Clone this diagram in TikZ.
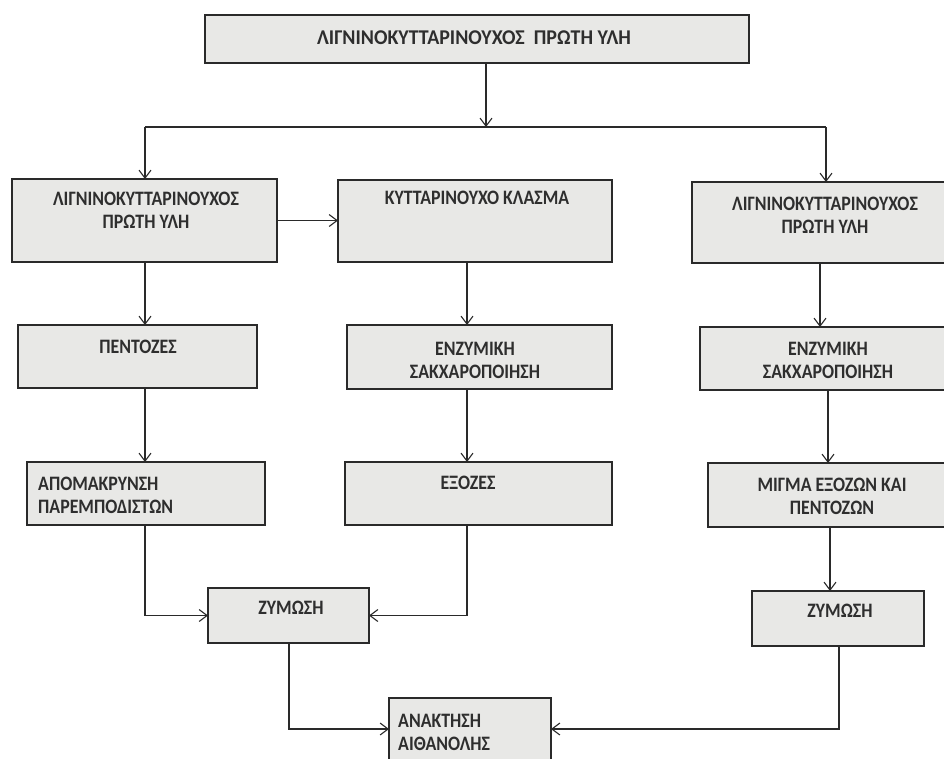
\documentclass[tikz,border=0pt]{standalone}
\usepackage{fontspec}
\setmainfont{Carlito}
\newfontfamily\condfont{Carlito}[FakeStretch=0.87]
\newfontfamily\topfont{Carlito}[FakeStretch=0.95]
\usetikzlibrary{arrows.meta}
\definecolor{boxgray}{HTML}{E8E8E6}
\definecolor{textgray}{HTML}{2E2E2E}
\definecolor{linegray}{HTML}{2A2A2A}
\newcommand\mybox[5]{\node[box, anchor=north west, minimum width={#4pt-#2pt}, minimum height={#5pt-#3pt}] (#1) at (#2,#3) {};}
\tikzset{
  box/.style={draw=linegray, line width=1.4pt, fill=boxgray, inner sep=0pt, outer sep=0pt},
  txt/.style={font=\condfont\bfseries\fontsize{20.5}{23}\selectfont, text=textgray, align=center, inner sep=0pt},
  txtl/.style={txt, align=left, anchor=west},
  conn/.style={draw=linegray, line width=1.1pt},
  arr/.style={conn, -{Straight Barb[length=8pt,width=12pt,line width=1.1pt]}},
}
\begin{document}
\begin{tikzpicture}[x=1pt,y=-1pt]
\useasboundingbox (0,0) rectangle (944,758);
\clip (0,0) rectangle (944,758);
\fill[white] (0,0) rectangle (944,758);
% boxes
\mybox{T}{205}{15}{749}{63}
\mybox{L1}{12}{179}{277}{262}
\mybox{M1}{338}{180}{612}{262}
\mybox{R1}{692}{182}{958}{263}
\mybox{L2}{18}{325}{257}{388}
\mybox{M2}{347}{325}{612}{389}
\mybox{R2}{700}{327}{958}{390}
\mybox{L3}{27}{462}{265}{525}
\mybox{M3}{345}{462}{612}{525}
\mybox{R3}{708}{463}{958}{527}
\mybox{Z}{208}{588}{369}{643}
\mybox{RZ}{752}{591}{924}{646}
\mybox{A}{389}{698}{551}{760}
% texts
\node[txt, font=\topfont\bfseries\fontsize{21}{24}\selectfont] (tT) at (474,38) {ΛΙΓΝΙΝΟΚΥΤΤΑΡΙΝΟΥΧΟΣ\ \ ΠΡΩΤΗ ΥΛΗ};
\node[txt] (tL1) at (146,210) {ΛΙΓΝΙΝΟΚΥΤΤΑΡΙΝΟΥΧΟΣ\\ΠΡΩΤΗ ΥΛΗ};
\node[txt] (tM1) at (477,198) {ΚΥΤΤΑΡΙΝΟΥΧΟ ΚΛΑΣΜΑ};
\node[txt] (tR1) at (825,215) {ΛΙΓΝΙΝΟΚΥΤΤΑΡΙΝΟΥΧΟΣ\\ΠΡΩΤΗ ΥΛΗ};
\node[txt] (tL2) at (138,347) {ΠΕΝΤΟΖΕΣ};
\node[txt] (tM2) at (475,360) {ΕΝΖΥΜΙΚΗ\\ΣΑΚΧΑΡΟΠΟΙΗΣΗ};
\node[txt] (tR2) at (828,360) {ΕΝΖΥΜΙΚΗ\\ΣΑΚΧΑΡΟΠΟΙΗΣΗ};
\node[txtl] (tL3) at (38,495) {ΑΠΟΜΑΚΡΥΝΣΗ\\ΠΑΡΕΜΠΟΔΙΣΤΩΝ};
\node[txt] (tM3) at (468,483) {ΕΞΟΖΕΣ};
\node[txt] (tR3) at (832,496) {ΜΙΓΜΑ ΕΞΟΖΩΝ ΚΑΙ\\ΠΕΝΤΟΖΩΝ};
\node[txt] (tZ) at (291,608) {ΖΥΜΩΣΗ};
\node[txt] (tRZ) at (840,611) {ΖΥΜΩΣΗ};
\node[txtl] (tA) at (398,732) {ΑΝΑΚΤΗΣΗ\\ΑΙΘΑΝΟΛΗΣ};
% column coordinates
\coordinate (split) at (486,127);
\coordinate (hl) at (145,127);
\coordinate (hr) at (826,127);
\coordinate (cL) at (145,0);
\coordinate (cM) at (467,0);
\coordinate (cR1) at (820,0);
\coordinate (cR2) at (828,0);
\coordinate (cR3) at (830,0);
\coordinate (cZ) at (289,0);
\coordinate (cRZ) at (839,0);
% connectors
\draw[arr] (T.south -| split) -- (split);
\draw[conn] (hl) -- (hr);
\draw[arr] (hl) -- (L1.north -| hl);
\draw[arr] (hr) -- (R1.north -| hr);
\draw[arr] (L1.east) -- (M1.west |- L1.east);
\draw[arr] (L1.south -| cL) -- (L2.north -| cL);
\draw[arr] (L2.south -| cL) -- (L3.north -| cL);
\draw[arr] (M1.south -| cM) -- (M2.north -| cM);
\draw[arr] (M2.south -| cM) -- (M3.north -| cM);
\draw[arr] (R1.south -| cR1) -- (R2.north -| cR1);
\draw[arr] (R2.south -| cR2) -- (R3.north -| cR2);
\draw[arr] (R3.south -| cR3) -- (RZ.north -| cR3);
\draw[arr] (L3.south -| cL) |- (Z.west);
\draw[arr] (M3.south -| cM) |- (Z.east);
\draw[arr] (Z.south -| cZ) |- (A.west);
\draw[arr] (RZ.south -| cRZ) |- (A.east);
\end{tikzpicture}
\end{document}
